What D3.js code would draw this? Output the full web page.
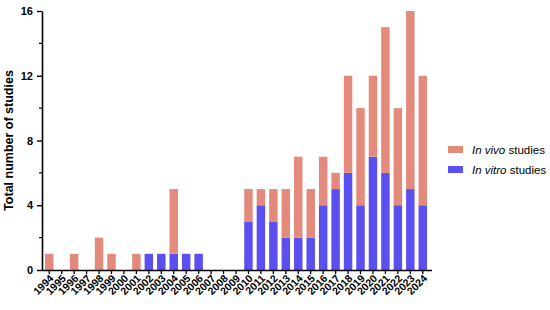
<!DOCTYPE html>
<html>
<head>
<meta charset="utf-8">
<script src="https://cdn.jsdelivr.net/npm/d3@7"></script>
<style>
  body { margin: 0; background: #fff; }
  text { font-family: Arial, "Liberation Sans", sans-serif; }
</style>
</head>
<body>
<div id="chart"></div>
<script>
// Data
const years = ['1994','1995','1996','1997','1998','1999','2000','2001','2002','2003','2004','2005','2006','2007','2008','2009','2010','2011','2012','2013','2014','2015','2016','2017','2018','2019','2020','2021','2022','2023','2024'];
const inVitro = [0,0,0,0,0,0,0,0,1,1,1,1,1,0,0,0,3,4,3,2,2,2,4,5,6,4,7,6,4,5,4];
const inVivo  = [1,0,1,0,2,1,0,1,0,0,4,0,0,0,0,0,2,1,2,3,5,3,3,1,6,6,5,9,6,11,8];
const yTicks = [0, 4, 8, 12, 16];
const yMinor = [2, 6, 10, 14];

const width = 550, height = 310;
const margin = { left: 42, top: 11, right: 121, bottom: 40 };

const svg = d3.select('#chart')
    .append('svg')
    .attr('width', width)
    .attr('height', height);

const x = d3.scaleBand()
    .domain(years)
    .range([margin.left + 1, 429])
    .paddingInner(0.32)
    .paddingOuter(0.16);

const y = d3.scaleLinear()
    .domain([0, 16])
    .range([270, margin.top]);

const colVivo = '#e48a7c';
const colVitro = '#5b4ff0';

const rows = years.map((yr, i) => ({ year: yr, vitro: inVitro[i], vivo: inVivo[i] }));
const stacked = d3.stack().keys(['vitro', 'vivo'])(rows);
const colors = { vitro: colVitro, vivo: colVivo };

svg.append('g')
  .selectAll('g')
  .data(stacked)
  .enter()
  .append('g')
  .attr('fill', d => colors[d.key])
  .selectAll('rect')
  .data(d => d)
  .enter()
  .append('rect')
  .attr('x', d => x(d.data.year))
  .attr('width', x.bandwidth())
  .attr('y', d => y(d[1]))
  .attr('height', d => y(d[0]) - y(d[1]));

// y axis
const yAxis = svg.append('g')
  .attr('transform', `translate(${margin.left},0)`)
  .call(d3.axisLeft(y).tickValues(yTicks).tickSize(5).tickSizeOuter(0));
yAxis.select('.domain').attr('stroke', '#000').attr('stroke-width', 1.6);
yAxis.selectAll('.tick line').attr('stroke-width', 1.4);
yAxis.selectAll('text')
  .attr('font-size', 11)
  .attr('font-weight', 'bold')
  .attr('font-family', 'Arial, "Liberation Sans", sans-serif')
  .attr('dx', -1);

svg.append('g')
  .selectAll('line')
  .data(yMinor)
  .enter()
  .append('line')
  .attr('x1', margin.left - 3)
  .attr('x2', margin.left)
  .attr('y1', d => y(d))
  .attr('y2', d => y(d))
  .attr('stroke', '#000')
  .attr('stroke-width', 1.2);

// x axis
const xAxis = svg.append('g')
  .attr('transform', `translate(0,${y(0)})`)
  .call(d3.axisBottom(x).tickSize(4).tickSizeOuter(0));
xAxis.select('.domain')
  .attr('d', `M${margin.left},0.5H432`)
  .attr('stroke', '#000')
  .attr('stroke-width', 1.6);
xAxis.selectAll('.tick line').attr('stroke-width', 1.3);
xAxis.selectAll('text')
  .attr('font-size', 10.5)
  .attr('font-weight', 'bold')
  .attr('font-family', 'Arial, "Liberation Sans", sans-serif')
  .attr('text-anchor', 'end')
  .attr('dy', null)
  .attr('y', 0)
  .attr('transform', 'translate(5,9) rotate(-45)');

// y label
svg.append('text')
  .attr('transform', `translate(13,${(y(0) + y(16)) / 2}) rotate(-90)`)
  .attr('text-anchor', 'middle')
  .attr('font-size', 12.5)
  .attr('font-weight', 'bold')
  .text('Total number of studies');

// legend
const legendItems = [
  { italic: 'In vivo', rest: ' studies', color: colVivo },
  { italic: 'In vitro', rest: ' studies', color: colVitro }
];
const legend = svg.append('g').attr('transform', 'translate(448,146)');
legendItems.forEach((d, i) => {
  const gi = legend.append('g').attr('transform', `translate(0,${i * 20})`);
  gi.append('rect').attr('width', 15).attr('height', 7).attr('fill', d.color);
  const t = gi.append('text').attr('x', 24).attr('y', 7.5).attr('font-size', 11.5);
  t.append('tspan').attr('font-style', 'italic').text(d.italic);
  t.append('tspan').text(d.rest);
});
</script>
</body>
</html>
